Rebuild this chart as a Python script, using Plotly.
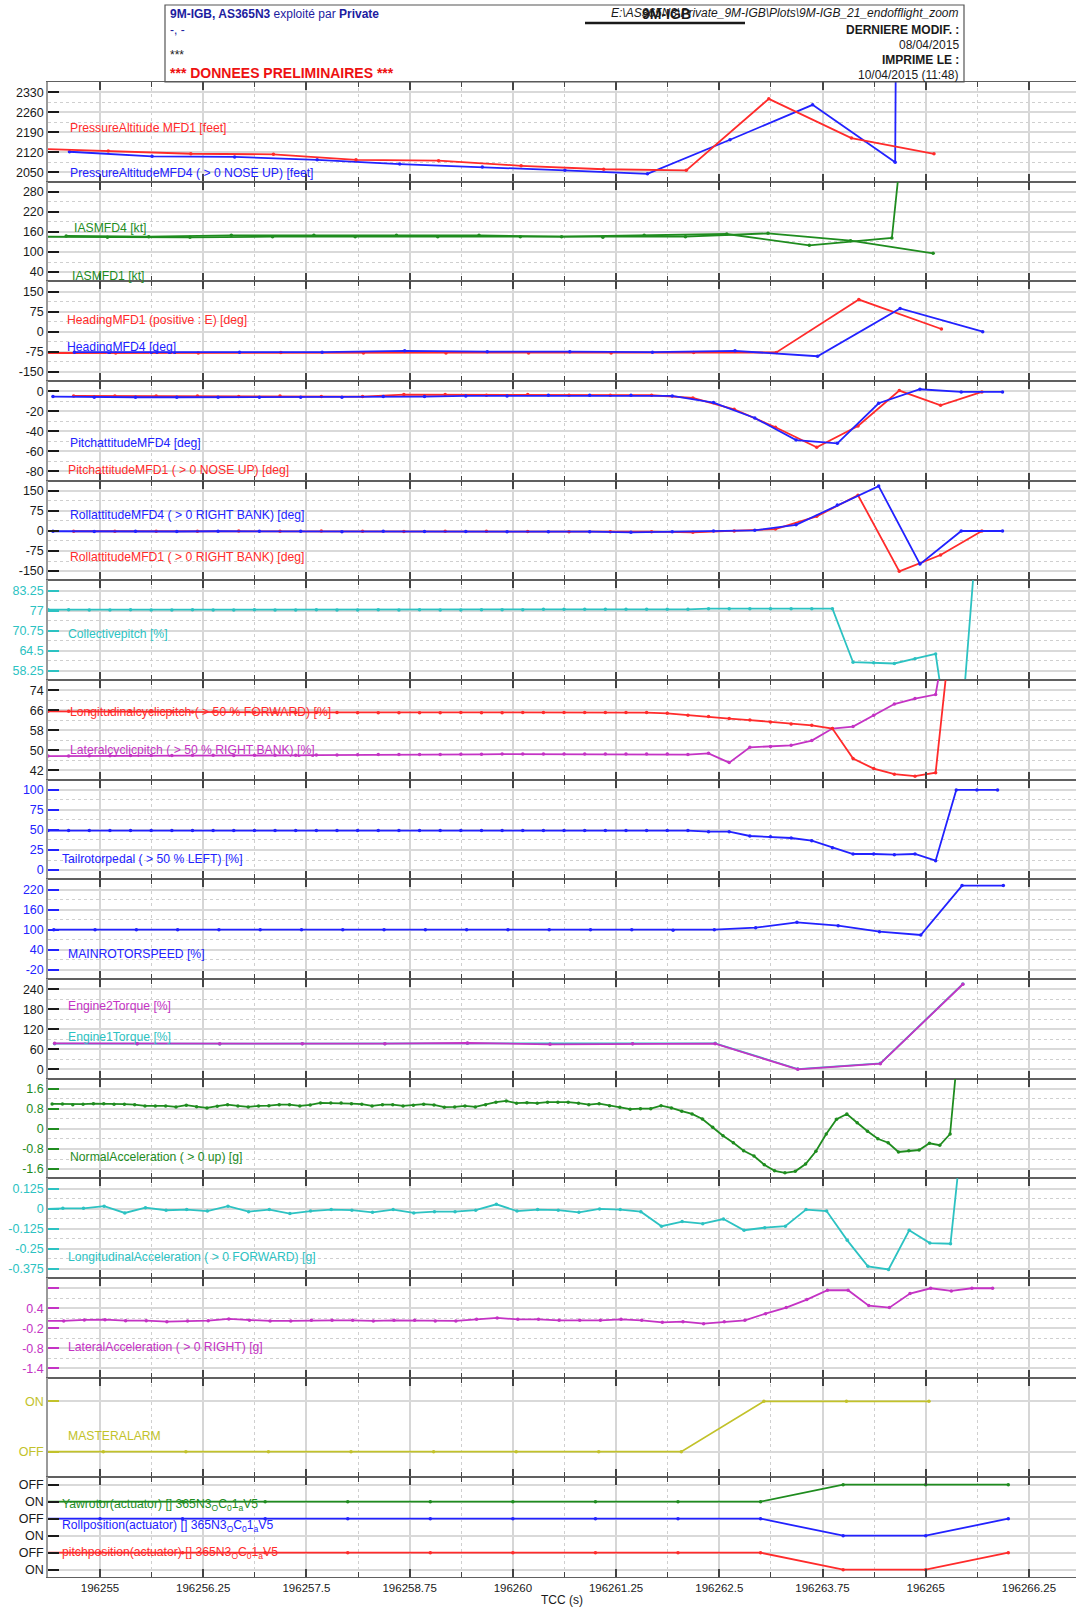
import plotly.graph_objects as go
from plotly.subplots import make_subplots

W, H = 1077, 1614
ML, MR, MT, MB = 48, 1, 82, 37
PW, PH = W - ML - MR, H - MT - MB
FONT = "Liberation Sans, Arial, sans-serif"

RED = '#ff2b2b'; BLUE = '#2222ff'; GREEN = '#1f8c1f'; CYAN = '#2cc2c2'
MAG = '#c433c4'; OLIVE = '#c2c22a'; BLACK = '#1a1a1a'; NAVY = '#1c1ca0'

T0 = 196254.0
X_RANGE = [196254.37, 196266.82]
X_TICKS = [196255, 196256.25, 196257.5, 196258.75, 196260, 196261.25,
           196262.5, 196263.75, 196265, 196266.25]
X_TICKTEXT = ['196255', '196256.25', '196257.5', '196258.75', '196260',
              '196261.25', '196262.5', '196263.75', '196265', '196266.25']

# ---------------- panels (y ticks) ----------------
PANELS = [
    dict(vals=[2050, 2120, 2190, 2260, 2330], text=['2050', '2120', '2190', '2260', '2330'], color=BLACK),
    dict(vals=[40, 100, 160, 220, 280], text=['40', '100', '160', '220', '280'], color=BLACK),
    dict(vals=[-150, -75, 0, 75, 150], text=['-150', '-75', '0', '75', '150'], color=BLACK),
    dict(vals=[-80, -60, -40, -20, 0], text=['-80', '-60', '-40', '-20', '0'], color=BLACK),
    dict(vals=[-150, -75, 0, 75, 150], text=['-150', '-75', '0', '75', '150'], color=BLACK),
    dict(vals=[58.25, 64.5, 70.75, 77, 83.25], text=['58.25', '64.5', '70.75', '77', '83.25'], color=CYAN),
    dict(vals=[42, 50, 58, 66, 74], text=['42', '50', '58', '66', '74'], color=BLACK),
    dict(vals=[0, 25, 50, 75, 100], text=['0', '25', '50', '75', '100'], color=BLUE),
    dict(vals=[-20, 40, 100, 160, 220], text=['-20', '40', '100', '160', '220'], color=BLUE),
    dict(vals=[0, 60, 120, 180, 240], text=['0', '60', '120', '180', '240'], color=BLACK),
    dict(vals=[-1.6, -0.8, 0, 0.8, 1.6], text=['-1.6', '-0.8', '0', '0.8', '1.6'], color=GREEN),
    dict(vals=[-0.375, -0.25, -0.125, 0, 0.125], text=['-0.375', '-0.25', '-0.125', '0', '0.125'], color=CYAN),
    dict(vals=[-1.4, -0.8, -0.2, 0.4, 1.0], text=['-1.4', '-0.8', '-0.2', '0.4', ''], color=MAG),
    dict(vals=[0, 1], text=['OFF', 'ON'], color=OLIVE, rng=[-0.51, 1.47]),
    dict(vals=[0, 1, 2, 3, 4, 5], text=['ON', 'OFF', 'ON', 'OFF', 'ON', 'OFF'], color=BLACK, rng=[-0.43, 5.43]),
]

# ---------------- series (start offset from T0, sample step, values) ----------------
PA_MFD1_START, PA_MFD1_STEP = 0.10, 1.0
PA_MFD1 = [2134, 2125, 2115, 2113, 2094, 2091, 2073, 2061, 2057, 2307, 2170, 2115]
PA_MFD4_START, PA_MFD4_STEP = 0.63, 1.0
PA_MFD4 = [2122, 2106, 2104, 2094, 2079, 2069, 2057, 2045, 2164, 2286, 2085, 50000]

IAS_MFD4_START, IAS_MFD4_STEP = 0.59, 1.0
IAS_MFD4 = [148, 146, 150, 150, 150, 150, 146, 150, 154, 120, 142, 2500]
IAS_MFD1_START, IAS_MFD1_STEP = 0.09, 1.0
IAS_MFD1 = [146, 144, 144, 146, 146, 146, 146, 144, 146, 156, 134, 96]

HDG_MFD1_START, HDG_MFD1_STEP = 0.19, 1.0
HDG_MFD1 = [-80, -80, -80, -78, -80, -80, -80, -80, -78, -78, 120, 10]
HDG_MFD4_START, HDG_MFD4_STEP = 0.69, 1.0
HDG_MFD4 = [-77, -77, -77, -77, -72, -75, -75, -77, -72, -92, 87, 0]

PIT_MFD4_START, PIT_MFD4_STEP = 0.43, 0.5
PIT_MFD4 = [-5.3, -6, -6, -6, -6, -6, -6, -6, -5.3, -5.3, -4.7, -4.7,
            -4, -4, -4, -4.7, -11.3, -26.7, -48.7, -52, -12, 2, -0.7, -0.7]
PIT_MFD1_START, PIT_MFD1_STEP = 0.68, 0.5
PIT_MFD1 = [-4.7, -4.7, -4.7, -4.7, -5.3, -4.7, -5.3, -5.3, -3.3, -3.3, -4, -3.3,
            -4, -4, -4, -6.7, -18, -36, -56, -34.7, 0.7, -14, -0.7]

ROL_MFD4_START, ROL_MFD4_STEP = 0.43, 0.5
ROL_MFD4 = [-1, -2, -1, -2, -1, -1, -1, -3, -1, -2, -2, -3,
            -2.5, -2.5, -5, -2.5, 0, 2.5, 23, 97, 168, -124, 0, 0]
ROL_MFD1_START, ROL_MFD1_STEP = 0.68, 0.5
ROL_MFD1 = [-1, -1, -1, -1, 0, -1, 0, -1, -2, -1, -1, -2,
            -2.5, -2.5, -2.5, -5, 0, 7, 55, 134, -151, -90, 0]

COL_START, COL_STEP = 0.37, 0.25
COLLECTIVE = [77.3, 77.3, 77.2, 77.2, 77.3, 77.2, 77.2, 77.3, 77.2, 77.2, 77.3, 77.2,
              77.2, 77.3, 77.2, 77.2, 77.3, 77.2, 77.3, 77.2, 77.2, 77.3, 77.3, 77.3,
              77.4, 77.4, 77.4, 77.4, 77.4, 77.4, 77.4, 77.4,
              77.6, 77.6, 77.6, 77.6, 77.6, 77.6, 77.6,
              60.9, 60.7, 60.5, 62.0, 63.5, 20, 102]

CYC_START, CYC_STEP = 0.37, 0.25
LONG_CYC = [65.6, 65.6, 65.5, 65.5, 65.5, 65.4, 65.4, 65.3, 65.3, 65.3, 65.2, 65.2,
            65.1, 65.1, 65.1, 65.0, 65.0, 65.0, 65.0, 65.0, 65.1, 65.0, 65.0, 65.1,
            65.1, 65.1, 65.1, 65.1, 65.1, 65.1, 64.8, 64.0, 63.5, 62.7, 62.1, 61.3,
            60.5, 60.0, 58.7, 46.7, 42.7, 40.5, 39.7, 41.1, 118]
LAT_CYC = [47.7, 47.7, 47.8, 47.8, 47.9, 47.9, 47.9, 48.0, 48.0, 47.9, 48.0, 48.0,
           48.0, 48.1, 48.1, 48.2, 48.3, 48.3, 48.3, 48.3, 48.4, 48.4, 48.5, 48.5,
           48.5, 48.5, 48.5, 48.5, 48.5, 48.5, 48.5, 48.3, 48.8, 45.1, 51.2, 51.5,
           52.0, 53.9, 58.7, 59.5, 64.0, 68.5, 70.7, 72.3, 120]

TRP_START, TRP_STEP = 0.37, 0.25
TAIL_PEDAL = [49.3, 49.2, 49.2, 49.3, 49.2, 49.2, 49.2, 49.3, 49.2, 49.2, 49.2, 49.3,
              49.2, 49.2, 49.3, 49.2, 49.2, 49.2, 49.3, 49.2, 49.2, 49.2, 49.3, 49.2,
              49.2, 49.2, 49.2, 49.2, 49.2, 49.2, 49.2, 49.2, 47.9, 47.9, 42.5, 41.7,
              40.0, 36.7, 27.9, 20.0, 20.0, 19.2, 20.0, 11.7, 100, 100, 100]

MRS_START, MRS_STEP = 0.44, 0.5
MAIN_ROTOR = [100, 100, 100, 100, 100, 100, 100, 100, 100, 100, 100, 100,
              100, 100, 100, 98, 100, 106, 122, 112, 94, 84, 232, 232]

TQ_START, TQ_STEP = 0.45, 1.0
ENG2_TQ = [78, 77, 77, 77, 77, 79, 75, 77, 77, 0, 17, 255]
ENG1_TQ = [77, 77, 76, 77, 77, 78, 76, 77, 78, 1, 18, 256]

NA_START, NA_STEP = 0.42, 0.125
NORMAL_ACC = [1.00, 1.00, 0.97, 0.99, 1.01, 1.01, 0.99, 0.99, 0.97, 0.92,
              0.92, 0.92, 0.88, 0.95, 0.89, 0.84, 0.91, 0.97, 0.92, 0.88,
              0.92, 0.93, 0.97, 0.97, 0.92, 0.96, 1.04, 1.04, 1.04, 1.01,
              0.99, 0.92, 0.97, 0.97, 0.92, 0.95, 0.99, 0.96, 0.87, 0.88,
              0.92, 0.88, 0.97, 1.07, 1.12, 1.03, 1.05, 1.03,
              1.07, 1.07, 1.07, 1.03, 0.97, 1.01, 0.93, 0.87, 0.79, 0.81,
              0.81, 0.93, 0.84, 0.71, 0.60, 0.40, 0.07, -0.27, -0.55, -0.87,
              -1.08, -1.43, -1.67, -1.75, -1.69, -1.40, -0.89, -0.20, 0.39, 0.60,
              0.25, -0.09, -0.39, -0.55, -0.92, -0.87, -0.84, -0.57, -0.65, -0.20,
              4.2]

LA_START, LA_STEP = 0.30, 0.25
LONG_ACC = [-0.004,
            0.002, 0.002, 0.015, -0.027, 0.006, -0.010, -0.006, -0.015, 0.015, -0.019,
            -0.006, -0.031, -0.015, -0.006, -0.010, -0.023, -0.006, -0.027, -0.019, -0.019,
            -0.010, 0.027, -0.015, -0.006,
            -0.010, -0.023, -0.002, -0.006, -0.019, -0.110, -0.081, -0.094, -0.065, -0.135,
            -0.119, -0.110, -0.006, -0.015, -0.198, -0.36, -0.38, -0.135, -0.215, -0.219,
            1.0]

LT_START, LT_STEP = 0.31, 0.25
LAT_ACC = [0.02,
           0.02, 0.05, 0.06, 0.03, 0.03, 0.00, 0.02, 0.03, 0.08, 0.04, 0.02, 0.02,
           0.04, 0.04, 0.04, 0.02, 0.04, 0.04, 0.02, 0.02, 0.07, 0.11, 0.07, 0.07,
           0.04, 0.04, 0.04, 0.07, 0.04, -0.02, 0.00, -0.06, 0.00, 0.04, 0.24,
           0.42, 0.66, 0.94, 0.94, 0.48, 0.42, 0.84, 1.00, 0.92, 1.00, 1.00]

MA_START, MA_STEP = 0.04, 1.0
MASTER_ALARM = [0, 0, 0, 0, 0, 0, 0, 0, 0, 1, 1, 1]

ACT_START, ACT_STEP = 0.0, 1.0
YAW_ACT = [4, 4, 4, 4, 4, 4, 4, 4, 4, 4, 5, 5, 5]
ROLL_ACT = [3, 3, 3, 3, 3, 3, 3, 3, 3, 3, 2, 2, 3]
PITCH_ACT = [1, 1, 1, 1, 1, 1, 1, 1, 1, 1, 0, 0, 1]

SUBS = "365N3<sub>O</sub>C<sub>0</sub>1<sub>a</sub>V5"

# (panel, start, step, values, color)
SERIES = [
    (1, PA_MFD4_START, PA_MFD4_STEP, PA_MFD4, BLUE),
    (1, PA_MFD1_START, PA_MFD1_STEP, PA_MFD1, RED),
    (2, IAS_MFD1_START, IAS_MFD1_STEP, IAS_MFD1, GREEN),
    (2, IAS_MFD4_START, IAS_MFD4_STEP, IAS_MFD4, GREEN),
    (3, HDG_MFD1_START, HDG_MFD1_STEP, HDG_MFD1, RED),
    (3, HDG_MFD4_START, HDG_MFD4_STEP, HDG_MFD4, BLUE),
    (4, PIT_MFD1_START, PIT_MFD1_STEP, PIT_MFD1, RED),
    (4, PIT_MFD4_START, PIT_MFD4_STEP, PIT_MFD4, BLUE),
    (5, ROL_MFD1_START, ROL_MFD1_STEP, ROL_MFD1, RED),
    (5, ROL_MFD4_START, ROL_MFD4_STEP, ROL_MFD4, BLUE),
    (6, COL_START, COL_STEP, COLLECTIVE, CYAN),
    (7, CYC_START, CYC_STEP, LAT_CYC, MAG),
    (7, CYC_START, CYC_STEP, LONG_CYC, RED),
    (8, TRP_START, TRP_STEP, TAIL_PEDAL, BLUE),
    (9, MRS_START, MRS_STEP, MAIN_ROTOR, BLUE),
    (10, TQ_START, TQ_STEP, ENG1_TQ, CYAN),
    (10, TQ_START, TQ_STEP, ENG2_TQ, MAG),
    (11, NA_START, NA_STEP, NORMAL_ACC, GREEN),
    (12, LA_START, LA_STEP, LONG_ACC, CYAN),
    (13, LT_START, LT_STEP, LAT_ACC, MAG),
    (14, MA_START, MA_STEP, MASTER_ALARM, OLIVE),
    (15, ACT_START, ACT_STEP, YAW_ACT, GREEN),
    (15, ACT_START, ACT_STEP, ROLL_ACT, BLUE),
    (15, ACT_START, ACT_STEP, PITCH_ACT, RED),
]

# (text, color, x_px, y_px)
LABELS = [
    ("PressureAltitude MFD1 [feet]", RED, 68, 128),
    ("PressureAltitudeMFD4 ( > 0 NOSE UP) [feet]", BLUE, 68, 173),
    ("IASMFD4 [kt]", GREEN, 72, 228),
    ("IASMFD1 [kt]", GREEN, 70, 276),
    ("HeadingMFD1 (positive : E) [deg]", RED, 65, 320),
    ("HeadingMFD4 [deg]", BLUE, 65, 347),
    ("PitchattitudeMFD4 [deg]", BLUE, 68, 443),
    ("PitchattitudeMFD1 ( > 0 NOSE UP) [deg]", RED, 66, 470),
    ("RollattitudeMFD4 ( > 0 RIGHT BANK) [deg]", BLUE, 68, 515),
    ("RollattitudeMFD1 ( > 0 RIGHT BANK) [deg]", RED, 68, 557),
    ("Collectivepitch [%]", CYAN, 66, 634),
    ("Longitudinalcyclicpitch ( > 50 % FORWARD) [%]", RED, 68, 712),
    ("Lateralcyclicpitch ( > 50 % RIGHT BANK) [%]", MAG, 68, 750),
    ("Tailrotorpedal ( > 50 % LEFT) [%]", BLUE, 60, 859),
    ("MAINROTORSPEED [%]", BLUE, 66, 954),
    ("Engine2Torque [%]", MAG, 66, 1006),
    ("Engine1Torque [%]", CYAN, 66, 1037),
    ("NormalAcceleration ( > 0 up) [g]", GREEN, 68, 1157),
    ("LongitudinalAcceleration ( > 0 FORWARD) [g]", CYAN, 66, 1257),
    ("LateralAcceleration ( > 0 RIGHT) [g]", MAG, 66, 1347),
    ("MASTERALARM", OLIVE, 66, 1436),
    ("Yawrotor(actuator) [] " + SUBS, GREEN, 60, 1505),
    ("Rollposition(actuator) [] " + SUBS, BLUE, 60, 1526),
    ("pitchposition(actuator) [] " + SUBS, RED, 60, 1553),
]


def px(x):
    return (x - ML) / PW


def py(y):
    return (H - MB - y) / PH


NP = len(PANELS)
fig = make_subplots(rows=NP, cols=1, shared_xaxes=True, vertical_spacing=0)

for panel, start, step, vals, col in SERIES:
    xs = [T0 + start + i * step for i in range(len(vals))]
    fig.add_trace(go.Scatter(x=xs, y=vals, mode='lines+markers',
                             line=dict(color=col, width=1.8),
                             marker=dict(color=col, size=3.5),
                             showlegend=False, hoverinfo='skip'),
                  row=panel, col=1)

for i, p in enumerate(PANELS):
    r = i + 1
    lo, hi = min(p['vals']), max(p['vals'])
    span = hi - lo
    rng = p.get('rng', [lo - 0.116 * span, hi + 0.128 * span])
    ystep = p['vals'][1] - p['vals'][0]
    yminor = dict(tickmode='linear', tick0=lo, dtick=ystep / 2, showgrid=True,
                  griddash='dot', gridcolor='#cfcfcf', gridwidth=1, ticks='')
    if 'rng' in p:
        yminor = dict(showgrid=False, ticks='')
    fig.update_yaxes(row=r, col=1, range=rng, tickmode='array', tickvals=p['vals'],
                     ticktext=p['text'], ticks='inside', ticklen=11, tickwidth=1.5,
                     tickcolor=p['color'], tickfont=dict(color=p['color'], size=12.5, family=FONT),
                     showgrid=True, gridcolor='#d9d9d9', gridwidth=2, zeroline=False,
                     showline=True, linecolor='#9a9a9a', linewidth=1.5,
                     minor=yminor, fixedrange=True)
    fig.update_xaxes(row=r, col=1, range=X_RANGE, tickmode='array', tickvals=X_TICKS,
                     ticktext=X_TICKTEXT, ticks='inside', ticklen=8, tickwidth=1.5,
                     tickcolor='#444444', showline=True, linecolor='#606060', linewidth=1.2,
                     mirror='ticks', showgrid=True, gridcolor='#d6d6d6', gridwidth=1.5,
                     zeroline=False, showticklabels=(r == NP),
                     tickfont=dict(color=BLACK, size=11.5, family=FONT),
                     minor=dict(tickmode='linear', tick0=196254.375, dtick=0.625,
                                ticks='inside', ticklen=5, tickcolor='#444444', tickwidth=1.2,
                                showgrid=True, griddash='dot', gridcolor='#cfcfcf', gridwidth=1))

fig.update_xaxes(row=NP, col=1, title=dict(text='TCC (s)', standoff=2,
                                           font=dict(size=12, family=FONT, color=BLACK)))

ann = []
for text, col, x, y in LABELS:
    ann.append(dict(text=text, x=px(x), y=py(y), xref='paper', yref='paper',
                    xanchor='left', yanchor='middle', showarrow=False,
                    font=dict(color=col, size=12.2, family=FONT)))

# header block
HX0, HX1, HY0, HY1 = 165, 964, 5, 82
hdr = [
    ("<b>9M-IGB, AS365N3</b> exploité par <b>Private</b>", NAVY, 168, 14, 'left', 12),
    ("-, -", NAVY, 168, 30, 'left', 12),
    ("***", BLACK, 168, 55, 'left', 12),
    ("<b>*** DONNEES PRELIMINAIRES ***</b>", '#ee1111', 168, 73, 'left', 14),
    ("<i>E:\\AS365N3\\Private_9M-IGB\\Plots\\9M-IGB_21_endofflight_zoom</i>", BLACK, 961, 13, 'right', 12),
    ("<b>DERNIERE MODIF. :</b>", BLACK, 961, 30, 'right', 12),
    ("08/04/2015", BLACK, 961, 45, 'right', 12),
    ("<b>IMPRIME LE :</b>", BLACK, 961, 60, 'right', 12),
    ("10/04/2015 (11:48)", BLACK, 961, 75, 'right', 12),
    ("<b>9M-IGB</b>", BLACK, 666, 14, 'center', 14),
]
for text, col, x, y, anc, sz in hdr:
    ann.append(dict(text=text, x=px(x), y=py(y), xref='paper', yref='paper',
                    xanchor=anc, yanchor='middle', showarrow=False,
                    font=dict(color=col, size=sz, family=FONT)))

shapes = [
    dict(type='rect', xref='paper', yref='paper', x0=px(HX0), x1=px(HX1), y0=py(HY1), y1=py(HY0),
         line=dict(color='#555555', width=1.2), fillcolor='rgba(0,0,0,0)', layer='above'),
    dict(type='line', xref='paper', yref='paper', x0=px(585), x1=px(745), y0=py(23), y1=py(23),
         line=dict(color=BLACK, width=2.5)),
]

fig.update_layout(width=W, height=H, margin=dict(l=ML, r=MR, t=MT, b=MB),
                  paper_bgcolor='white', plot_bgcolor='white',
                  annotations=ann, shapes=shapes, showlegend=False,
                  font=dict(family=FONT, size=12, color=BLACK))

fig.write_html("out.html", config={'displayModeBar': False},
               post_script="document.body.style.margin='0';document.body.style.overflow='hidden';")
